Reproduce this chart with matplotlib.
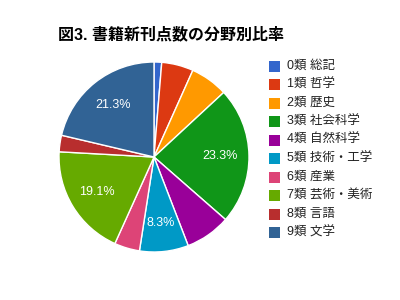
import matplotlib
matplotlib.use("Agg")
import matplotlib.pyplot as plt
from matplotlib.patches import Rectangle
import numpy as np

plt.rcParams['font.family'] = ['Liberation Sans', 'Noto Sans CJK JP']

# Data
labels = ["0類 総記", "1類 哲学", "2類 歴史", "3類 社会科学", "4類 自然科学",
          "5類 技術・工学", "6類 産業", "7類 芸術・美術", "8類 言語", "9類 文学"]
shares = [1.3, 5.4, 6.4, 23.3, 7.7, 8.3, 4.3, 19.1, 2.8, 21.3]
colors = ["#3366cc", "#dc3912", "#ff9900", "#109618", "#990099",
          "#0099c6", "#dd4477", "#66aa00", "#b82e2e", "#316395"]
shown = [3, 5, 7, 9]  # slices with a percentage label

fig = plt.figure(figsize=(4, 3), dpi=100)
fig.patch.set_facecolor("white")

ax = fig.add_axes([0.1475, 0.16, 0.475, 0.6333])
wedges, _ = ax.pie(shares, colors=colors, startangle=90, counterclock=False,
                   wedgeprops=dict(edgecolor="white", linewidth=1))
total = sum(shares)
cum = 0
for i, s in enumerate(shares):
    mid = 90 - (cum + s / 2) / total * 360
    cum += s
    if i in shown:
        r = 0.7
        ax.text(r * np.cos(np.radians(mid)), r * np.sin(np.radians(mid)),
                f"{s:.1f}%", color="white", fontsize=9, ha="center", va="center")
ax.set_xlim(-1, 1)
ax.set_ylim(-1, 1)
ax.set_aspect("equal")
ax.axis("off")

# Title
fig.text(58 / 400, 1 - 34 / 300, "図3. 書籍新刊点数の分野別比率",
         fontsize=11.5, fontweight="bold", ha="left", va="center")

# Legend
for i, (lab, c) in enumerate(zip(labels, colors)):
    yc = 66 + i * 18.5
    fig.patches.append(Rectangle((269 / 400, 1 - (yc + 5.5) / 300), 11 / 400, 11 / 300,
                                 transform=fig.transFigure, facecolor=c, edgecolor="none"))
    fig.text(287 / 400, 1 - yc / 300, lab, fontsize=9, ha="left", va="center", color="#222222")

fig.savefig("out.png", dpi=100)
